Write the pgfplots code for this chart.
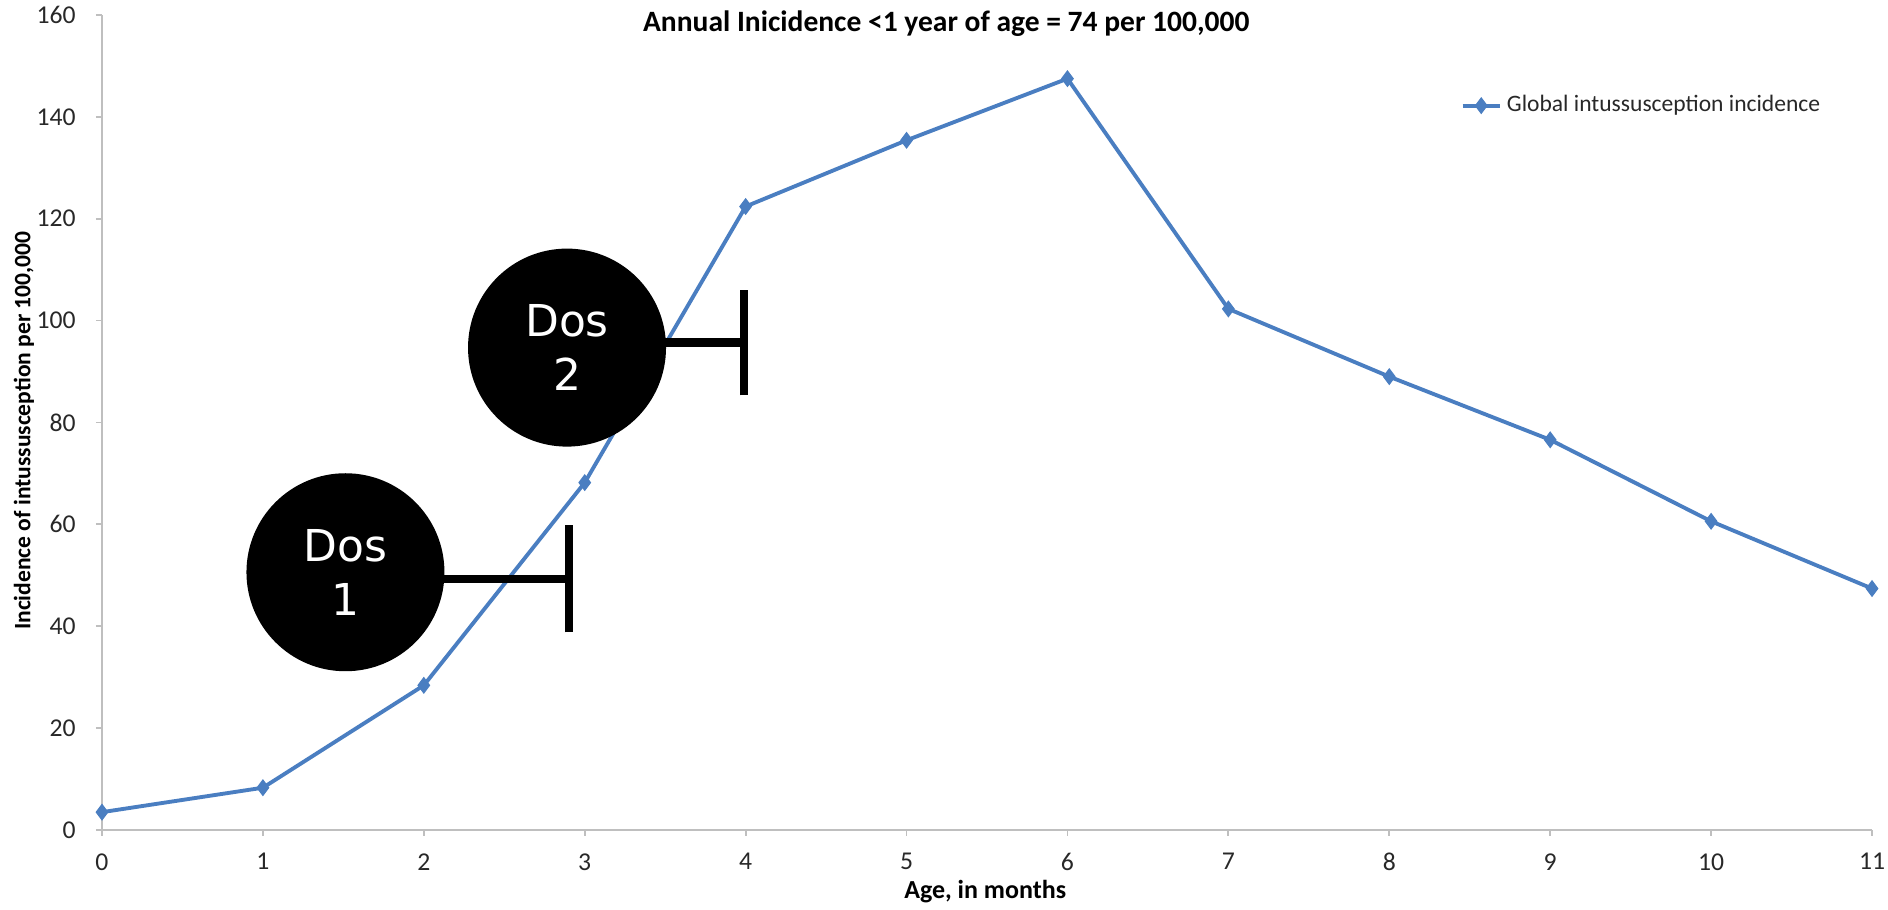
\documentclass[border=0pt]{standalone}
\usepackage{fontspec}
\setmainfont{Carlito}
\newfontfamily\dosfont{DejaVu Sans}
\usepackage{pgfplots}
\pgfplotsset{compat=1.18}

\definecolor{lineblue}{RGB}{74,126,193}
\definecolor{axisgray}{RGB}{191,191,191}
\definecolor{txt}{RGB}{40,40,40}

\begin{document}
\begin{tikzpicture}
\path[use as bounding box] (-1.02cm,-0.80cm) rectangle (17.86cm,8.30cm);
\begin{axis}[
  scale only axis,
  width=17.70cm, height=8.15cm,
  xmin=0, xmax=11, ymin=0, ymax=160,
  xtick={0,1,...,11}, ytick={0,20,...,160},
  axis lines=left,
  axis line style={-, draw=axisgray, line width=0.5pt},
  tick style={draw=axisgray, line width=0.5pt},
  tick align=outside,
  major tick length=0.6mm,
  clip=false,
  /pgf/number format/assume math mode=true,
  tick label style={font=\fontsize{7.3}{8.5}\selectfont, text=txt},
  xticklabel style={yshift=-0.5mm},
  yticklabel style={xshift=-0.8mm},
  xlabel={Age, in months},
  ylabel={Incidence of intussusception per 100,000},
  xlabel style={at={(axis description cs:0.499,-0.0761)}, anchor=center, font=\bfseries\fontsize{7.4}{8.5}\selectfont},
  ylabel style={at={(axis description cs:-0.0441,0.49)}, anchor=center, font=\bfseries\fontsize{6.7}{8}\selectfont},
  legend style={at={(axis cs:8.44,142.2)}, anchor=west, draw=none, fill=none,
    inner sep=0pt, font=\fontsize{6.7}{8}\selectfont, text=txt,
    nodes={inner sep=0.15em}},
  legend cell align=left,
  legend image code/.code={\draw[mark repeat=2,mark phase=2,#1] plot coordinates {(0cm,0cm) (0.185cm,0cm) (0.37cm,0cm)};},
]
\addplot[color=lineblue, line width=1.1pt, mark=diamond*, mark size=2.2pt,
  mark options={fill=lineblue, draw=lineblue, line width=0.3pt}]
  coordinates {(0,3.5) (1,8.3) (2,28.4) (3,68.2) (4,122.4) (5,135.4)
               (6,147.5) (7,102.3) (8,89.0) (9,76.6) (10,60.6) (11,47.4)};
\addlegendentry{Global intussusception incidence}

\node[font=\bfseries\fontsize{8.4}{10}\selectfont, text=black] at (axis description cs:0.477,0.989) {Annual Inicidence <1 year of age = 74 per 100,000};

% dose markers
\draw[line width=2.3pt] (axis cs:1.513,49.2) -- (axis cs:2.90,49.2);
\draw[line width=2.3pt] (axis cs:2.90,38.8) -- (axis cs:2.90,59.8);
\node[circle, fill=black, minimum size=19.8mm, inner sep=0pt, text=white, align=center,
  font=\dosfont\fontsize{12.5}{15.3}\selectfont] at (axis cs:1.513,50.6) {Dos\\1};

\draw[line width=2.3pt] (axis cs:2.89,95.7) -- (axis cs:3.99,95.7);
\draw[line width=2.3pt] (axis cs:3.99,85.3) -- (axis cs:3.99,106.1);
\node[circle, fill=black, minimum size=19.8mm, inner sep=0pt, text=white, align=center,
  font=\dosfont\fontsize{12.5}{15.3}\selectfont] at (axis cs:2.89,94.7) {Dos\\2};
\end{axis}
\end{tikzpicture}
\end{document}
